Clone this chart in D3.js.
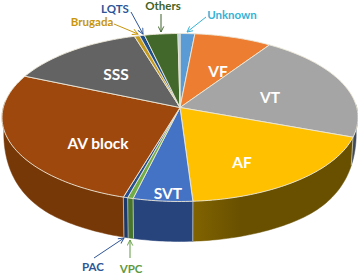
<!DOCTYPE html>
<html>
<head>
<meta charset="utf-8">
<script src="https://cdnjs.cloudflare.com/ajax/libs/d3/7.8.5/d3.min.js"></script>
<style>
html, body { margin: 0; padding: 0; background: #fff; }
svg { display: block; }
text { font-family: Lato, "Open Sans", sans-serif; font-weight: 700; }
</style>
</head>
<body>
<svg class="piechart" width="358" height="275"></svg>
<script>
// values, percent of the pie, clockwise from 12 o'clock
let categories = ["Unknown", "VF", "VT", "AF", "SVT", "VPC", "PAC", "AV block", "SSS", "Brugada", "LQTS", "Others", "Blank"];
let shares = [1.5, 7.9, 21.2, 18.4, 4.8, 0.45, 0.36, 26.9, 13.9, 0.53, 0.5, 3.4, 0.21];
let topColors = ["#5b9bd5", "#ed7d31", "#a5a5a5", "#ffc000", "#4472c4", "#70ad47", "#264f8f", "#9e480e", "#636363", "#c49a1c", "#1f4e8c", "#43682b", "#a9c9dc"];
let sideColors = ["#2f5a80", "#8a4a1c", "#3f4a5c", "#685000", "#27447c", "#47752c", "#1c3a6c", "#773807", "#3c3c3c", "#6b5000", "#16355f", "#2b451b", "#7f98a8"];

let centre = {x: 180, y: 107.5};
let radiusX = 176.7, radiusY = 82.8, persp = 0.119;

let svg = d3.select("body").select(".piechart");

let pie = d3.pie().sort(null).value(d => d.share);
let slices = pie(categories.map((c, i) => ({name: c, share: shares[i], fill: topColors[i], side: sideColors[i]})));

// wall height on screen, tall in front and fading out towards the edges
function wallDrop(v) {
  return 9 + 31 * Math.sin(Math.min(1, Math.max(0, v / 0.8)) * Math.PI / 2);
}

// disc point -> screen, with the near side of the pie bigger than the far side
function project(angle, r, drop) {
  let u = r * Math.sin(angle), v = -r * Math.cos(angle);
  let w = 1 - persp * v;
  let x = radiusX * u / w;
  let y = centre.y + radiusY * v / w;
  if (drop) {
    y += wallDrop(v);
    x *= 0.99;
  }
  return [centre.x + x, y];
}

function arcPoints(a0, a1, drop) {
  let n = Math.max(2, Math.ceil((a1 - a0) / 0.02));
  return d3.range(n + 1).map(i => project(a0 + (a1 - a0) * i / n, 1, drop));
}

let line = d3.line();

// side wall first, only the part facing us
let sideStart = 88 * Math.PI / 180, sideEnd = 274 * Math.PI / 180;
let defs = svg.append("defs");
let sideGroup = svg.append("g").attr("id", "sides");
slices.forEach((s, i) => {
  let a0 = Math.max(s.startAngle, sideStart), a1 = Math.min(s.endAngle, sideEnd);
  if (a1 <= a0) return;
  let up = arcPoints(a0, a1, false), down = arcPoints(a0, a1, true).reverse();
  let xs = d3.extent(up.concat(down), p => p[0]);
  let grad = defs.append("linearGradient").attr("id", "side" + i)
    .attr("gradientUnits", "userSpaceOnUse")
    .attr("x1", xs[0]).attr("x2", xs[1]).attr("y1", 0).attr("y2", 0);
  let base = d3.color(s.data.side);
  // only the AF wall catches the light near the front
  let isAF = s.data.name == "AF";
  grad.append("stop").attr("offset", 0).attr("stop-color", isAF ? base.brighter(0.6) : base);
  grad.append("stop").attr("offset", isAF ? 0.3 : 1).attr("stop-color", base);
  sideGroup.append("path")
    .attr("d", line(up.concat(down)) + "Z")
    .attr("fill", "url(#side" + i + ")")
    .attr("stroke", "url(#side" + i + ")").attr("stroke-width", 0.5);
});
// pale seams between the walls
sideGroup.selectAll("line").data(slices.filter(s => s.startAngle > sideStart && s.startAngle < sideEnd)).join("line")
  .attr("x1", s => project(s.startAngle, 1, false)[0]).attr("y1", s => project(s.startAngle, 1, false)[1])
  .attr("x2", s => project(s.startAngle, 1, true)[0]).attr("y2", s => project(s.startAngle, 1, true)[1])
  .attr("stroke", "#dcdcd0").attr("stroke-width", 0.7);

// top face
svg.append("g").attr("id", "top").selectAll("path")
  .data(slices).join("path")
  .attr("d", s => line([[centre.x, centre.y]].concat(arcPoints(s.startAngle, s.endAngle, false))) + "Z")
  .attr("fill", s => s.data.fill)
  .attr("stroke", "#ece8d8").attr("stroke-width", 0.9).attr("stroke-linejoin", "round");

// labels inside the slices
let innerLabels = [
  {t: "SSS", x: 116, y: 75, s: 15.5},
  {t: "VF", x: 218, y: 72, s: 15.5},
  {t: "VT", x: 270, y: 98, s: 15.5},
  {t: "AF", x: 242, y: 163, s: 15.5},
  {t: "AV block", x: 98, y: 144, s: 15.5},
  {t: "SVT", x: 168, y: 194, s: 15.5}
];
svg.append("g").selectAll("text").data(innerLabels).join("text")
  .attr("x", d => d.x).attr("y", d => d.y)
  .attr("dy", "0.35em").attr("text-anchor", "middle")
  .attr("font-size", d => d.s).attr("fill", "#fff")
  .text(d => d.t);

// outer labels with their arrows
let outerLabels = [
  {t: "Others", x: 163, y: 6, c: "#3f6228", from: [161, 14], to: [161, 32]},
  {t: "Unknown", x: 232, y: 15, c: "#35b3d6", from: [206, 17], to: [187, 32]},
  {t: "LQTS", x: 115, y: 9, c: "#2f5597", from: [131, 12], to: [143, 34]},
  {t: "Brugada", x: 92, y: 22, c: "#c8960c", from: [114, 24], to: [138, 34]},
  {t: "PAC", x: 93, y: 267, c: "#2f5597", from: [94, 258], to: [124, 238]},
  {t: "VPC", x: 131, y: 269, c: "#5f9a3f", from: [130, 258], to: [130, 240]}
];
outerLabels.forEach((d, i) => {
  defs.append("marker").attr("id", "arrow" + i)
    .attr("viewBox", "0 0 10 10").attr("refX", 9).attr("refY", 5)
    .attr("markerWidth", 7).attr("markerHeight", 7).attr("orient", "auto")
    .attr("markerUnits", "userSpaceOnUse")
    .append("path").attr("d", "M1,1L9,5L1,9").attr("fill", "none")
    .attr("stroke", d.c).attr("stroke-width", 1.3);
});
let outer = svg.append("g").attr("id", "outer");
outer.selectAll("line").data(outerLabels).join("line")
  .attr("x1", d => d.from[0]).attr("y1", d => d.from[1])
  .attr("x2", d => d.to[0]).attr("y2", d => d.to[1])
  .attr("stroke", d => d.c).attr("stroke-width", 1)
  .attr("marker-end", (d, i) => "url(#arrow" + i + ")");
outer.selectAll("text").data(outerLabels).join("text")
  .attr("x", d => d.x).attr("y", d => d.y)
  .attr("dy", "0.35em").attr("text-anchor", "middle")
  .attr("font-size", 11.5).attr("fill", d => d.c)
  .text(d => d.t);
</script>
</body>
</html>
